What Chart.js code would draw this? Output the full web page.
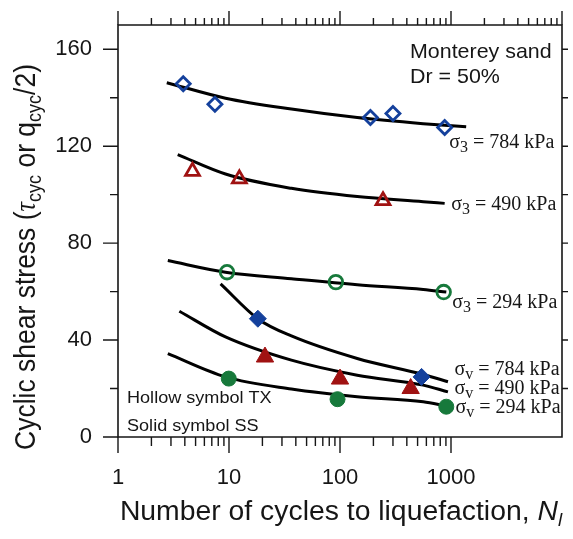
<!doctype html>
<html lang="en">
<head>
<meta charset="UTF-8">
<title>Cyclic shear stress vs cycles</title>
<script src="https://cdn.jsdelivr.net/npm/chart.js"></script>
<style>
  body { margin: 0; background: #fff; }
  #wrap { width: 573px; height: 539px; }
</style>
</head>
<body>
<div id="wrap"><canvas id="chart"></canvas></div>
<script>
// axis ticks
const xTickValues = [1, 10, 100, 1000];
const xTickLabels = ['1', '10', '100', '1000'];
const yTickValues = [0, 40, 80, 120, 160];

// TX tests (hollow symbols)
const tx784N = [3.87, 7.47, 188, 300, 877];
const tx784V = [145.8, 137.3, 131.8, 133.5, 127.7];
const tx490N = [4.69, 12.4, 244];
const tx490V = [109.6, 106.5, 97.5];
const tx294N = [9.6, 91.8, 859];
const tx294V = [68.0, 63.9, 59.8];

// SS tests (solid symbols)
const ss784N = [18.2, 543];
const ss784V = [48.8, 24.8];
const ss490N = [21.1, 100, 433];
const ss490V = [33.0, 23.9, 20.0];
const ss294N = [9.95, 95, 907];
const ss294V = [24.1, 15.6, 12.5];

// trend curves
const fitTx784N = [2.75, 9.3, 36.5, 143, 562, 1370];
const fitTx784V = [146.2, 139.8, 135.3, 131.8, 129.3, 128.0];
const fitTx490N = [3.45, 9.3, 36.5, 143, 562, 877];
const fitTx490V = [116.5, 108.5, 102.6, 99.2, 97.1, 96.4];
const fitTx294N = [2.81, 9.3, 36.5, 143, 562, 907];
const fitTx294V = [72.8, 68.0, 65.3, 62.8, 60.9, 59.8];
const fitSs784N = [8.4, 18.4, 36.5, 143, 562, 939];
const fitSs784V = [63.2, 48.6, 41.7, 32.4, 25.8, 22.8];
const fitSs490N = [3.57, 9.3, 36.5, 143, 562, 939];
const fitSs490V = [51.9, 41.3, 31.7, 25.5, 21.4, 18.6];
const fitSs294N = [2.81, 9.3, 36.5, 143, 562, 907];
const fitSs294V = [34.4, 24.8, 19.8, 16.6, 14.5, 12.8];

// curve labels
const labelN = [965, 1005, 1026, 1076, 1076, 1098];
const labelV = [119.4, 93.7, 53.2, 25.6, 17.6, 9.8];
const labelSub = ['3', '3', '3', 'v', 'v', 'v'];
const labelKpa = ['784 kPa', '490 kPa', '294 kPa', '784 kPa', '490 kPa', '294 kPa'];

const BLUE = '#14409c';
const RED = '#a01212';
const GREEN = '#17793b';
const INK = '#161616';
const SANS = '"Liberation Sans", Arial, sans-serif';
const SERIF = '"Liberation Serif", "Times New Roman", serif';

const pts = (n, v) => n.map((x, i) => ({ x: x, y: v[i] }));

function marker(n, v, style, r, color, hollow) {
  return {
    data: pts(n, v),
    showLine: false,
    pointStyle: style,
    pointRadius: r,
    pointBorderWidth: hollow ? 2.8 : 1,
    pointBorderColor: color,
    pointBackgroundColor: hollow ? 'rgba(0,0,0,0)' : color,
    order: 0
  };
}

function curve(n, v) {
  return {
    data: pts(n, v),
    showLine: true,
    pointRadius: 0,
    borderColor: '#000',
    borderWidth: 3,
    cubicInterpolationMode: 'monotone',
    order: 1
  };
}

// draws text pieces one after another (for subscripts / italics)
function richWidth(ctx, parts) {
  let w = 0;
  parts.forEach(p => { ctx.font = p.f; w += ctx.measureText(p.t).width; });
  return w;
}
function drawRich(ctx, parts) {
  let cx = 0;
  parts.forEach(p => {
    ctx.font = p.f;
    ctx.fillText(p.t, cx, p.dy || 0);
    cx += ctx.measureText(p.t).width;
  });
}
function stretched(ctx, text, font, x, y, sx) {
  ctx.save();
  ctx.translate(x, y);
  ctx.scale(sx, 1);
  ctx.font = font;
  ctx.fillText(text, 0, 0);
  ctx.restore();
}

const frame = {
  id: 'frame',
  afterDraw(chart) {
    const { ctx, chartArea: a, scales: { x, y } } = chart;
    ctx.save();
    ctx.strokeStyle = INK;
    ctx.lineWidth = 1.6;
    ctx.beginPath();
    ctx.rect(a.left, a.top, a.right - a.left, a.bottom - a.top);
    ctx.stroke();

    ctx.lineWidth = 1.4;
    ctx.beginPath();
    // log ticks, bottom up to 1000, top up to 10000
    for (let d = 1; d <= 10000; d *= 10) {
      const px = x.getPixelForValue(d);
      ctx.moveTo(px, a.top); ctx.lineTo(px, a.top - 14);
      if (d <= 1000) { ctx.moveTo(px, a.bottom); ctx.lineTo(px, a.bottom + 16); }
      if (d === 10000) break;
      for (let k = 2; k <= 9; k++) {
        const mx = x.getPixelForValue(d * k);
        ctx.moveTo(mx, a.top); ctx.lineTo(mx, a.top - 7);
        if (d < 1000) { ctx.moveTo(mx, a.bottom); ctx.lineTo(mx, a.bottom + 9); }
      }
    }
    for (let v = 0; v <= 160; v += 20) {
      const py = y.getPixelForValue(v);
      ctx.moveTo(a.left, py); ctx.lineTo(a.left - (v % 40 === 0 ? 15 : 8), py);
      if (v > 0) { ctx.moveTo(a.right, py); ctx.lineTo(a.right + 6, py); }
    }
    ctx.stroke();

    ctx.fillStyle = INK;
    ctx.textBaseline = 'alphabetic';
    ctx.textAlign = 'left';

    // curve labels
    labelN.forEach((n, i) => {
      ctx.save();
      ctx.translate(x.getPixelForValue(n), y.getPixelForValue(labelV[i]));
      drawRich(ctx, [
        { t: 'σ', f: '20px ' + SERIF },
        { t: labelSub[i], f: '16px ' + SERIF, dy: 4 },
        { t: ' = ' + labelKpa[i], f: '20px ' + SERIF }
      ]);
      ctx.restore();
    });

    // notes
    stretched(ctx, 'Monterey sand', '21px ' + SANS, 410, 58, 1.02);
    stretched(ctx, 'Dr = 50%', '21px ' + SANS, 410, 83, 1.02);
    stretched(ctx, 'Hollow symbol TX', '16px ' + SANS, 127, 403, 1.13);
    stretched(ctx, 'Solid symbol SS', '16px ' + SANS, 127, 431, 1.13);

    // x title
    const xParts = [
      { t: 'Number of cycles to liquefaction, ', f: '27px ' + SANS },
      { t: 'N', f: 'italic 27px ' + SANS },
      { t: 'l', f: 'italic 18px ' + SANS, dy: 6 }
    ];
    const xw = richWidth(ctx, xParts) * 1.05;
    ctx.save();
    ctx.translate(341 - xw / 2, 520);
    ctx.scale(1.05, 1);
    drawRich(ctx, xParts);
    ctx.restore();

    // y title
    const yParts = [
      { t: 'Cyclic shear stress (', f: '26.5px ' + SANS },
      { t: 'τ', f: 'italic 26.5px ' + SERIF },
      { t: 'cyc', f: '18px ' + SANS, dy: 6 },
      { t: ' or q', f: '26.5px ' + SANS },
      { t: 'cyc', f: '18px ' + SANS, dy: 6 },
      { t: '/2)', f: '26.5px ' + SANS }
    ];
    const yw = richWidth(ctx, yParts);
    ctx.save();
    ctx.translate(35, 257);
    ctx.rotate(-Math.PI / 2);
    ctx.scale(1, 1.08);
    ctx.translate(-yw / 2, 0);
    drawRich(ctx, yParts);
    ctx.restore();

    ctx.restore();
  }
};

new Chart(document.getElementById('chart'), {
  type: 'scatter',
  data: {
    datasets: [
      marker(tx784N, tx784V, 'rectRot', 7, BLUE, true),
      marker(tx490N, tx490V, 'triangle', 8, RED, true),
      marker(tx294N, tx294V, 'circle', 6.8, GREEN, true),
      marker(ss784N, ss784V, 'rectRot', 8.5, BLUE, false),
      marker(ss490N, ss490V, 'triangle', 10, RED, false),
      marker(ss294N, ss294V, 'circle', 7.5, GREEN, false),
      curve(fitTx784N, fitTx784V),
      curve(fitTx490N, fitTx490V),
      curve(fitTx294N, fitTx294V),
      curve(fitSs784N, fitSs784V),
      curve(fitSs490N, fitSs490V),
      curve(fitSs294N, fitSs294V)
    ]
  },
  options: {
    responsive: true,
    maintainAspectRatio: false,
    animation: false,
    layout: { padding: { top: 25, right: 6, left: 0, bottom: 0 } },
    plugins: { legend: { display: false }, tooltip: { enabled: false } },
    scales: {
      x: {
        type: 'logarithmic',
        min: 1,
        max: 10000,
        grid: { display: false, drawTicks: false },
        border: { display: false },
        afterBuildTicks: s => { s.ticks = xTickValues.map(v => ({ value: v })); },
        afterFit: s => { s.height = 102; s.paddingLeft = 0; s.paddingRight = 0; },
        ticks: {
          autoSkip: false,
          maxRotation: 0,
          padding: 28,
          color: INK,
          font: { family: SANS, size: 22 },
          callback: v => xTickLabels[xTickValues.indexOf(v)] || ''
        }
      },
      y: {
        min: 0,
        max: 170,
        grid: { display: false, drawTicks: false },
        border: { display: false },
        afterBuildTicks: s => { s.ticks = yTickValues.map(v => ({ value: v })); },
        afterFit: s => { s.width = 118; s.paddingTop = 0; s.paddingBottom = 0; },
        ticks: {
          padding: 26,
          color: INK,
          font: { family: SANS, size: 22 },
          callback: v => String(v)
        }
      }
    }
  },
  plugins: [frame]
});
</script>
</body>
</html>
